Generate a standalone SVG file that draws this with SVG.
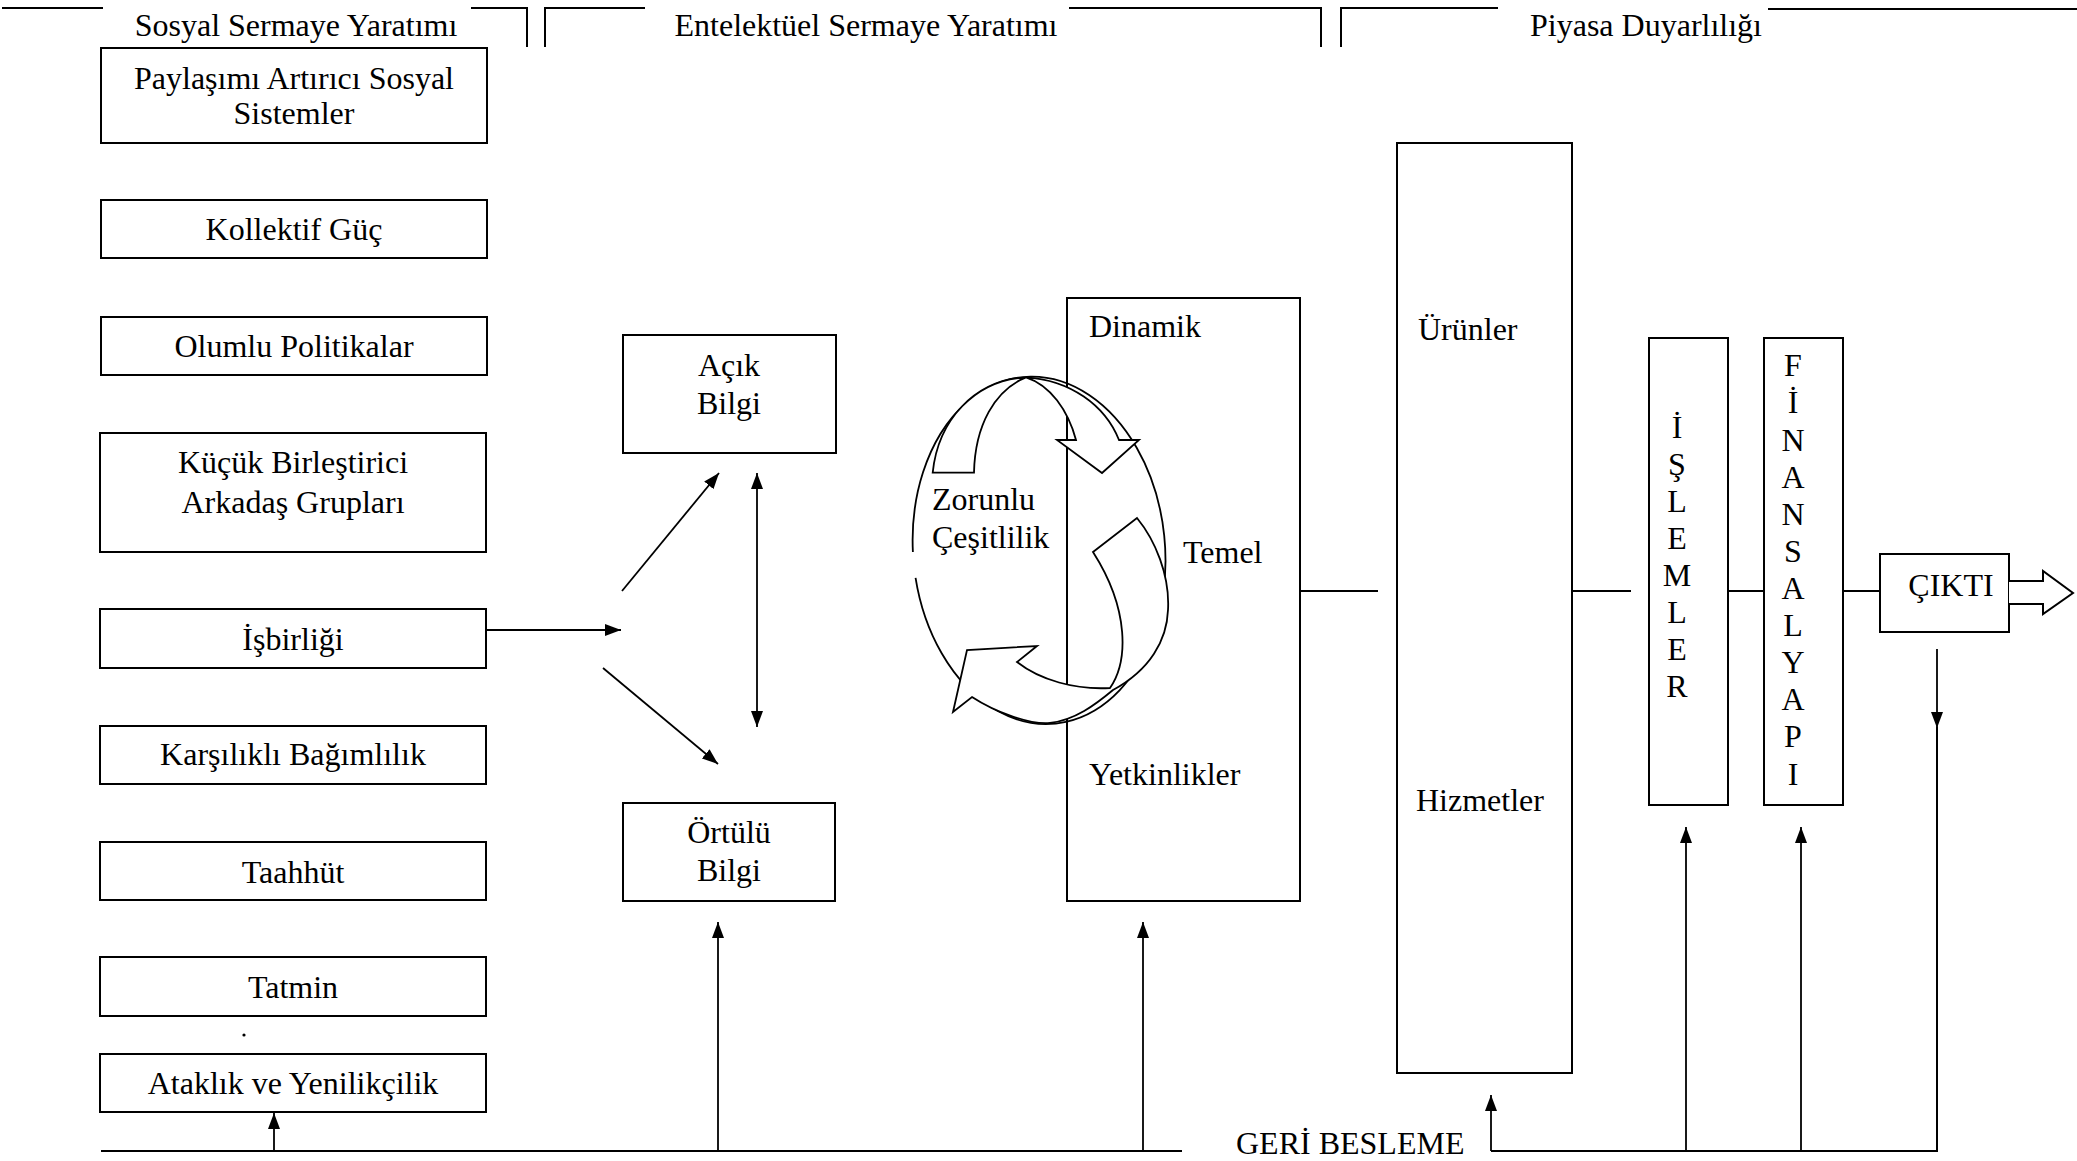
<svg xmlns="http://www.w3.org/2000/svg" width="2077" height="1161" viewBox="0 0 2077 1161">
<defs>
<marker id="ah" markerUnits="userSpaceOnUse" markerWidth="16" markerHeight="12" refX="16" refY="6" orient="auto-start-reverse"><path d="M0,0 L16,6 L0,12 Z" fill="#000"/></marker>
<style>
.box{fill:#fff;stroke:#000;stroke-width:2}
.t{font-family:"Liberation Serif","Times New Roman",serif;font-size:32px;fill:#000}
.c{text-anchor:middle}
.ln{stroke:#000;stroke-width:2;fill:none}
.ar{stroke:#000;stroke-width:1.8;fill:none;marker-end:url(#ah)}
.sh{fill:#fff;stroke:#000;stroke-width:1.8}
</style>
</defs>
<rect width="2077" height="1161" fill="#fff"/>

<g id="headers">
<path class="ln" d="M2,8 H103 M471,8 H527 V47 M545,47 V8 H645 M1069,8 H1321 V47 M1341,47 V8 H1498 M1768,9 H2077"/>
<text class="t c" x="296" y="36">Sosyal Sermaye Yaratımı</text>
<text class="t c" x="866" y="36">Entelektüel Sermaye Yaratımı</text>
<text class="t c" x="1646" y="36">Piyasa Duyarlılığı</text>
</g>

<g id="n-paylasim"><rect class="box" x="101" y="48" width="386" height="95"/><text class="t c" x="294" y="89">Paylaşımı Artırıcı Sosyal</text><text class="t c" x="294" y="124">Sistemler</text></g>
<g id="n-kollektif"><rect class="box" x="101" y="200" width="386" height="58"/><text class="t c" x="294" y="240">Kollektif Güç</text></g>
<g id="n-olumlu"><rect class="box" x="101" y="317" width="386" height="58"/><text class="t c" x="294" y="357">Olumlu Politikalar</text></g>
<g id="n-kucuk"><rect class="box" x="100" y="433" width="386" height="119"/><text class="t c" x="293" y="473">Küçük Birleştirici</text><text class="t c" x="293" y="513">Arkadaş Grupları</text></g>
<g id="n-isbirligi"><rect class="box" x="100" y="609" width="386" height="59"/><text class="t c" x="293" y="650">İşbirliği</text></g>
<g id="n-karsilikli"><rect class="box" x="100" y="726" width="386" height="58"/><text class="t c" x="293" y="765">Karşılıklı Bağımlılık</text></g>
<g id="n-taahhut"><rect class="box" x="100" y="842" width="386" height="58"/><text class="t c" x="293" y="883">Taahhüt</text></g>
<g id="n-tatmin"><rect class="box" x="100" y="957" width="386" height="59"/><text class="t c" x="293" y="998">Tatmin</text></g>
<circle cx="244" cy="1035" r="1.6" fill="#000"/>
<g id="n-ataklik"><rect class="box" x="100" y="1054" width="386" height="58"/><text class="t c" x="293" y="1094">Ataklık ve Yenilikçilik</text></g>

<g id="n-acik"><rect class="box" x="623" y="335" width="213" height="118"/><text class="t c" x="729" y="376">Açık</text><text class="t c" x="729" y="414">Bilgi</text></g>
<g id="n-ortulu"><rect class="box" x="623" y="803" width="212" height="98"/><text class="t c" x="729" y="843">Örtülü</text><text class="t c" x="729" y="881">Bilgi</text></g>

<g id="n-yetkinlik"><rect class="box" x="1067" y="298" width="233" height="603"/><text class="t" x="1089" y="337">Dinamik</text><text class="t" x="1183" y="563">Temel</text><text class="t" x="1089" y="785">Yetkinlikler</text></g>

<g id="n-zorunlu">
<path class="ln" style="stroke-width:1.8" transform="translate(1039,550) rotate(-5)" d="M-125.4,17 A126 174 0 1 0 -125.8,-9"/>
<path class="sh" d="M932.7,472.7 C938,420 975,380 1026,377.3 C1070,380 1105,405 1119,440 L1139,440 L1102,473 L1057,440 L1076,440 C1068,410 1050,385 1026,377.3 C995,390 975,425 974,472.7 Z"/>
<path class="sh" d="M1093,552 L1137,518 C1155,540 1170,575 1168,610 C1167,640 1150,670 1113,690 C1095,705 1075,720 1050,723 C1030,725 995,712 972,697 L953,712 L967,650 L1037,646 L1017,662 C1040,680 1075,690 1110,688 C1128,662 1130,610 1093,552 Z"/>
<text class="t" x="932" y="510">Zorunlu</text>
<text class="t" x="932" y="548">Çeşitlilik</text>
</g>

<g id="n-urunler"><rect class="box" x="1397" y="143" width="175" height="930"/><text class="t" x="1418" y="340">Ürünler</text><text class="t" x="1416" y="811">Hizmetler</text></g>

<g id="n-islemler"><rect class="box" x="1649" y="338" width="79" height="467"/>
<text class="t c" x="1677" y="438">İ</text><text class="t c" x="1677" y="475">Ş</text><text class="t c" x="1677" y="512">L</text><text class="t c" x="1677" y="549">E</text><text class="t c" x="1677" y="586">M</text><text class="t c" x="1677" y="623">L</text><text class="t c" x="1677" y="660">E</text><text class="t c" x="1677" y="697">R</text>
</g>

<g id="n-finansal"><rect class="box" x="1764" y="338" width="79" height="467"/>
<text class="t c" x="1793" y="376">F</text><text class="t c" x="1793" y="413">İ</text><text class="t c" x="1793" y="451">N</text><text class="t c" x="1793" y="488">A</text><text class="t c" x="1793" y="525">N</text><text class="t c" x="1793" y="562">S</text><text class="t c" x="1793" y="599">A</text><text class="t c" x="1793" y="636">L</text><text class="t c" x="1793" y="673">Y</text><text class="t c" x="1793" y="710">A</text><text class="t c" x="1793" y="747">P</text><text class="t c" x="1793" y="785">I</text>
</g>

<g id="n-cikti"><rect class="box" x="1880" y="554" width="129" height="78"/><text class="t c" x="1951" y="596">ÇIKTI</text>
<path class="sh" style="stroke-width:2" d="M2009,581 H2043 V571 L2073,593 L2043,614 V604 H2009"/></g>

<g id="n-geri"><text class="t" x="1236" y="1154">GERİ BESLEME</text></g>

<g id="connectors">
<line class="ar" x1="487" y1="630" x2="621" y2="630"/>
<line class="ar" x1="622" y1="591" x2="719" y2="473"/>
<line class="ar" x1="603" y1="668" x2="718" y2="764"/>
<line class="ar" x1="757" y1="727" x2="757" y2="473" style="marker-start:url(#ah)"/>
<path class="ln" d="M1300,591 H1378 M1572,591 H1631 M1728,591 H1764 M1843,591 H1880"/>
<path class="ln" d="M101,1151 H1182 M1491,1151 H1937 V727"/>
<line class="ar" x1="1937" y1="649" x2="1937" y2="728"/>
<line class="ar" x1="274" y1="1151" x2="274" y2="1113"/>
<line class="ar" x1="718" y1="1151" x2="718" y2="922"/>
<line class="ar" x1="1143" y1="1151" x2="1143" y2="922"/>
<line class="ar" x1="1491" y1="1151" x2="1491" y2="1095"/>
<line class="ar" x1="1686" y1="1151" x2="1686" y2="827"/>
<line class="ar" x1="1801" y1="1151" x2="1801" y2="827"/>
</g>
</svg>
